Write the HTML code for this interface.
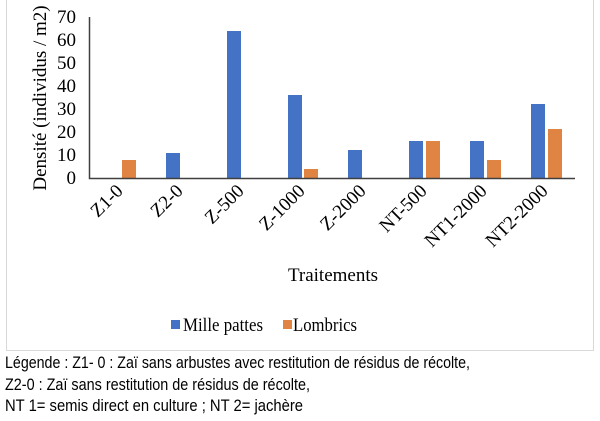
<!DOCTYPE html>
<html><head><meta charset="utf-8"><style>body{margin:0;background:#fff}svg{display:block}</style></head>
<body>
<svg width="600" height="421" xmlns="http://www.w3.org/2000/svg" font-family="Liberation Serif, serif">
<rect x="0" y="0" width="600" height="421" fill="#fff"/>
<path d="M6.5 0 V350.5 H593.5 V0" fill="none" stroke="#d9d9d9"/>
<g font-size="19" fill="#000" text-anchor="end">
<text x="76" y="184">0</text><text x="76" y="161">10</text><text x="76" y="138">20</text><text x="76" y="115">30</text><text x="76" y="92">40</text><text x="76" y="69">50</text><text x="76" y="46">60</text><text x="76" y="23">70</text>
</g>
<text transform="translate(46,98) rotate(-90)" font-size="19" text-anchor="middle">Densité (individus / m2)</text>
<g fill="#4472c4">
<rect x="166" y="153" width="14" height="25"/>
<rect x="227" y="31" width="14" height="147"/>
<rect x="288" y="95" width="14" height="83"/>
<rect x="348" y="150" width="14" height="28"/>
<rect x="409" y="141" width="14" height="37"/>
<rect x="470" y="141" width="14" height="37"/>
<rect x="531" y="104" width="14" height="74"/>
</g>
<g fill="#e08443">
<rect x="122" y="160" width="14" height="18"/>
<rect x="304" y="169" width="14" height="9"/>
<rect x="426" y="141" width="14" height="37"/>
<rect x="487" y="160" width="14" height="18"/>
<rect x="548" y="129" width="14" height="49"/>
</g>
<path d="M89.5 17 V178.5 H575" fill="none" stroke="#404040" stroke-width="1.5"/>
<g font-size="19" text-anchor="end">
<text transform="translate(124,192) rotate(-45)">Z1-0</text>
<text transform="translate(184,192) rotate(-45)">Z2-0</text>
<text transform="translate(245,192) rotate(-45)">Z-500</text>
<text transform="translate(306,192) rotate(-45)">Z-1000</text>
<text transform="translate(367,192) rotate(-45)">Z-2000</text>
<text transform="translate(428,192) rotate(-45)">NT-500</text>
<text transform="translate(488,192) rotate(-45)">NT1-2000</text>
<text transform="translate(549,192) rotate(-45)">NT2-2000</text>
</g>
<text x="333" y="281" font-size="19" text-anchor="middle">Traitements</text>
<rect x="171" y="320" width="9" height="9" fill="#4472c4"/>
<text x="183" y="331" font-size="19" textLength="80" lengthAdjust="spacingAndGlyphs">Mille pattes</text>
<rect x="283" y="320" width="9" height="9" fill="#e08443"/>
<text x="293" y="331" font-size="19" textLength="64" lengthAdjust="spacingAndGlyphs">Lombrics</text>
<g font-family="Liberation Sans, sans-serif" font-size="17">
<text x="5" y="368" textLength="465" lengthAdjust="spacingAndGlyphs">Légende : Z1- 0 : Zaï sans arbustes avec restitution de résidus de récolte,</text>
<text x="5" y="390" textLength="305" lengthAdjust="spacingAndGlyphs">Z2-0 : Zaï sans restitution de résidus de récolte,</text>
<text x="5" y="411" textLength="298" lengthAdjust="spacingAndGlyphs">NT 1= semis direct en culture ; NT 2= jachère</text>
</g>
</svg>
</body></html>
